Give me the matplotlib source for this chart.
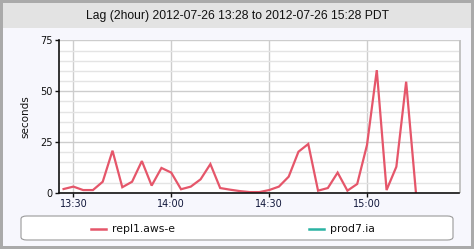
import pandas as pd
import numpy as np
import matplotlib
matplotlib.use('Agg')
from matplotlib import pyplot as plt
import matplotlib.dates as mdates
from matplotlib.patches import Rectangle, FancyBboxPatch
from matplotlib.ticker import MultipleLocator

# lag samples, one every 3 minutes starting 13:27
start = '2012-07-26 13:27'
repl1_lag = [1.8, 3.0, 1.3, 1.3, 5.4, 20.7, 2.7, 5.4, 15.6, 3.5,
             12.2, 9.9, 1.7, 3.0, 6.6, 14.1, 2.3, 1.5, 0.8, 0.3,
             0.3, 1.3, 3.0, 7.9, 20.2, 24.0, 1.0, 2.3, 9.9, 1.0,
             4.3, 23.5, 60.4, 1.3, 12.8, 54.7, 0.0]
prod7_lag = []
series_names = ['repl1.aws-e', 'prod7.ia']
series_colors = ['#e5566a', '#2bb3a3']
title = 'Lag (2hour) 2012-07-26 13:28 to 2012-07-26 15:28 PDT'

times = pd.date_range(start, periods=len(repl1_lag), freq='3min')

W, H = 474, 249
fig = plt.figure(figsize=(W / 100, H / 100), dpi=100)
fig.patch.set_facecolor('#aaaaaa')

def px(x, y, w, h):
    return [x / W, 1 - (y + h) / H, w / W, h / H]

# panel + title band
fig.patches.append(Rectangle((3 / W, 3 / H), (W - 6) / W, (H - 6) / H, zorder=-10,
                             transform=fig.transFigure, facecolor='#f7f7fd', edgecolor='none'))
fig.patches.append(Rectangle((3 / W, 1 - 28 / H), (W - 6) / W, 25 / H, zorder=-9,
                             transform=fig.transFigure, facecolor='#e3e3e3', edgecolor='none'))
fig.text(0.5, 1 - 15.5 / H, title, ha='center', va='center', fontsize=8.7,
         family='Liberation Sans', color='#111111')

# shadow behind plot area
fig.patches.append(Rectangle((59 / W, 1 - 193 / H), 402 / W, 153 / H, zorder=-8,
                             transform=fig.transFigure, facecolor='#c4c4c4', edgecolor='none'))

ax = fig.add_axes(px(59, 40.5, 400, 152.2))
ax.set_zorder(5)
ax.set_facecolor('white')
ax.plot(times, repl1_lag, color=series_colors[0], linewidth=1.6, solid_joinstyle='miter')

ax.set_ylim(0, 75)
ax.set_xlim(pd.Timestamp('2012-07-26 13:25:36'), pd.Timestamp('2012-07-26 15:28:12'))
ax.yaxis.set_major_locator(MultipleLocator(25))
ax.yaxis.set_minor_locator(MultipleLocator(5))
ax.xaxis.set_major_locator(mdates.MinuteLocator(byminute=[0, 30]))
ax.xaxis.set_major_formatter(mdates.DateFormatter('%H:%M'))
ax.grid(True, which='major', color='#cdcdcd', linewidth=1)
ax.grid(True, which='minor', axis='y', color='#e4e4e4', linewidth=1)
ax.set_axisbelow(True)
for s in ['top', 'right']:
    ax.spines[s].set_visible(False)
for s in ['left', 'bottom']:
    ax.spines[s].set_color('#111111')
    ax.spines[s].set_linewidth(1.2)
ax.tick_params(which='major', length=3, width=1, labelsize=7, colors='#111111', pad=1.5)
ax.tick_params(which='minor', length=0)
ax.tick_params(axis='x', labelcolor='#10163a')
ax.set_ylabel('seconds', fontsize=7.5, labelpad=7, color='#111111')

# legend box
lbox = FancyBboxPatch((21 / W, 1 - 240 / H), 432 / W, 24 / H,
                      boxstyle='round,pad=0,rounding_size=0.012',
                      transform=fig.transFigure, facecolor='white',
                      edgecolor='#9a9a9a', linewidth=0.8)
fig.patches.append(lbox)
ly = 1 - 228.5 / H
for x0, name, c in [(91, series_names[0], series_colors[0]), (309, series_names[1], series_colors[1])]:
    fig.lines.append(plt.Line2D([x0 / W, (x0 + 15) / W], [ly, ly], transform=fig.transFigure,
                                color=c, linewidth=1.8))
    fig.text((x0 + 21) / W, ly, name, ha='left', va='center', fontsize=7.8, color='#111111')

fig.savefig('out.png', dpi=100, facecolor=fig.get_facecolor())
